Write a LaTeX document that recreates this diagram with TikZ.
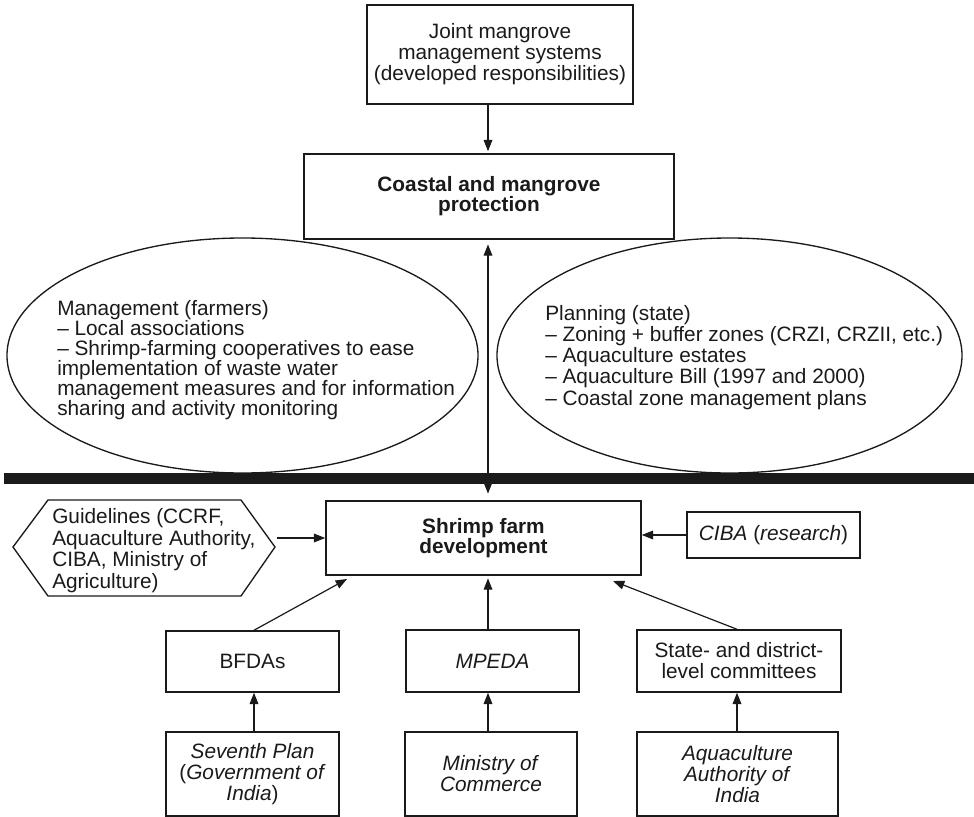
\documentclass[tikz,border=0pt]{standalone}
\usepackage{fontspec}
\setmainfont{Liberation Sans}
\usetikzlibrary{arrows.meta,shapes.geometric}
\definecolor{ink}{HTML}{1A1A1A}
\begin{document}
\begin{tikzpicture}[x=0.75pt,y=-0.75pt,
  every node/.style={text=ink},
  box/.style={draw=ink,line width=1.1pt,inner sep=0pt,align=center,font=\fontsize{15.6pt}{15.8pt}\selectfont},
  boldbox/.style={box,font=\fontsize{15.6pt}{15pt}\selectfont\bfseries},
  arr/.style={draw=ink,line width=0.9pt,-{Triangle[length=8.5pt,width=6.5pt]}},
  dbl/.style={draw=ink,line width=0.9pt,{Triangle[length=8.5pt,width=6.5pt]}-{Triangle[length=8.5pt,width=6.5pt]}},
  txt/.style={inner sep=0pt,align=left,anchor=north west},
  ell/.style={draw=ink,line width=1pt,ellipse,inner sep=0pt}]
\useasboundingbox (0,0) rectangle (974,817);

% top part
\node[box,minimum width=199.5pt,minimum height=74.25pt] (joint) at (500,54.5)
  {Joint mangrove\\management systems\\(developed responsibilities)};
\node[boldbox,minimum width=277.5pt,minimum height=63.75pt] (coastal) at (489,196.5)
  {Coastal and mangrove\\protection};

% ellipses
\node[ell,minimum width=353.25pt,minimum height=176.25pt] (mgmt) at (242.5,355.5) {};
\node[ell,minimum width=348.75pt,minimum height=176.25pt] (plan) at (729.5,355.5) {};
\node[txt,font=\fontsize{15.6pt}{15pt}\selectfont] (mgmtT) at (57,300)
  {Management (farmers)\\– Local associations\\– Shrimp-farming cooperatives to ease\\implementation of waste water\\management measures and for information\\sharing and activity monitoring};
\node[txt,font=\fontsize{15.6pt}{15.9pt}\selectfont] (planT) at (545,305)
  {Planning (state)\\– Zoning + buffer zones (CRZI, CRZII, etc.)\\– Aquaculture estates\\– Aquaculture Bill (1997 and 2000)\\– Coastal zone management plans};

% separating bar
\fill[ink] (4,473) rectangle (974,484);

% lower part
\node[boldbox,minimum width=236.25pt,minimum height=55.5pt] (shrimp) at (483.5,538)
  {Shrimp farm\\development};
\draw[ink,line width=1pt] (13,547) coordinate (hexL) -- (48,500) -- (241,500) -- (275,547) coordinate (hexR) -- (241,596) -- (48,596) -- cycle;
\node[txt,font=\fontsize{15.6pt}{16.3pt}\selectfont] (guide) at (52,508)
  {Guidelines (CCRF,\\Aquaculture Authority,\\CIBA, Ministry of\\Agriculture)};
\node[box,minimum width=129.75pt,minimum height=34.5pt] (ciba) at (773.5,535)
  {\textit{CIBA} (\textit{research})};

\node[box,minimum width=129.75pt,minimum height=45.75pt] (bfdas) at (252.5,661.5) {BFDAs};
\node[box,minimum width=129.75pt,minimum height=46.5pt] (mpeda) at (492.5,661) {\textit{MPEDA}};
\node[box,minimum width=153pt,minimum height=46.5pt] (state) at (739,661)
  {State- and district-\\level committees};

\node[box,minimum width=129.75pt,minimum height=63pt] (seventh) at (252.5,774)
  {\textit{Seventh Plan}\\(\textit{Government of}\\\textit{India})};
\node[box,minimum width=129pt,minimum height=63pt] (ministry) at (491,774)
  {\textit{Ministry of}\\\textit{Commerce}};
\node[box,minimum width=150.75pt,minimum height=63pt] (aqua) at (737.5,774)
  {\textit{Aquaculture}\\\textit{Authority of}\\\textit{India}};

% connector helpers
\coordinate (sx) at (488,0);
\coordinate (bx) at (254,0);
\coordinate (stx) at (737,0);
\coordinate (gR) at (277,538);
\coordinate (tipL) at (347,579);
\coordinate (tipR) at (613,581);

% connectors
\draw[arr,shorten >=1.5pt] (joint.south -| sx) -- (coastal.north -| sx);
\draw[dbl,shorten <=3.5pt,shorten >=5pt] (coastal.south -| sx) -- (shrimp.north -| sx);
\draw[arr] (gR) -- (shrimp.west);
\draw[arr] (ciba.west) -- (shrimp.east |- ciba.west);
\draw[arr] (bfdas.north -| bx) -- (tipL);
\draw[arr,shorten >=2pt] (mpeda.north -| sx) -- (shrimp.south -| sx);
\draw[arr] (state.north -| stx) -- (tipR);
\draw[arr] (seventh.north -| bx) -- (bfdas.south -| bx);
\draw[arr] (ministry.north -| sx) -- (mpeda.south -| sx);
\draw[arr] (aqua.north -| stx) -- (state.south -| stx);
\end{tikzpicture}
\end{document}
